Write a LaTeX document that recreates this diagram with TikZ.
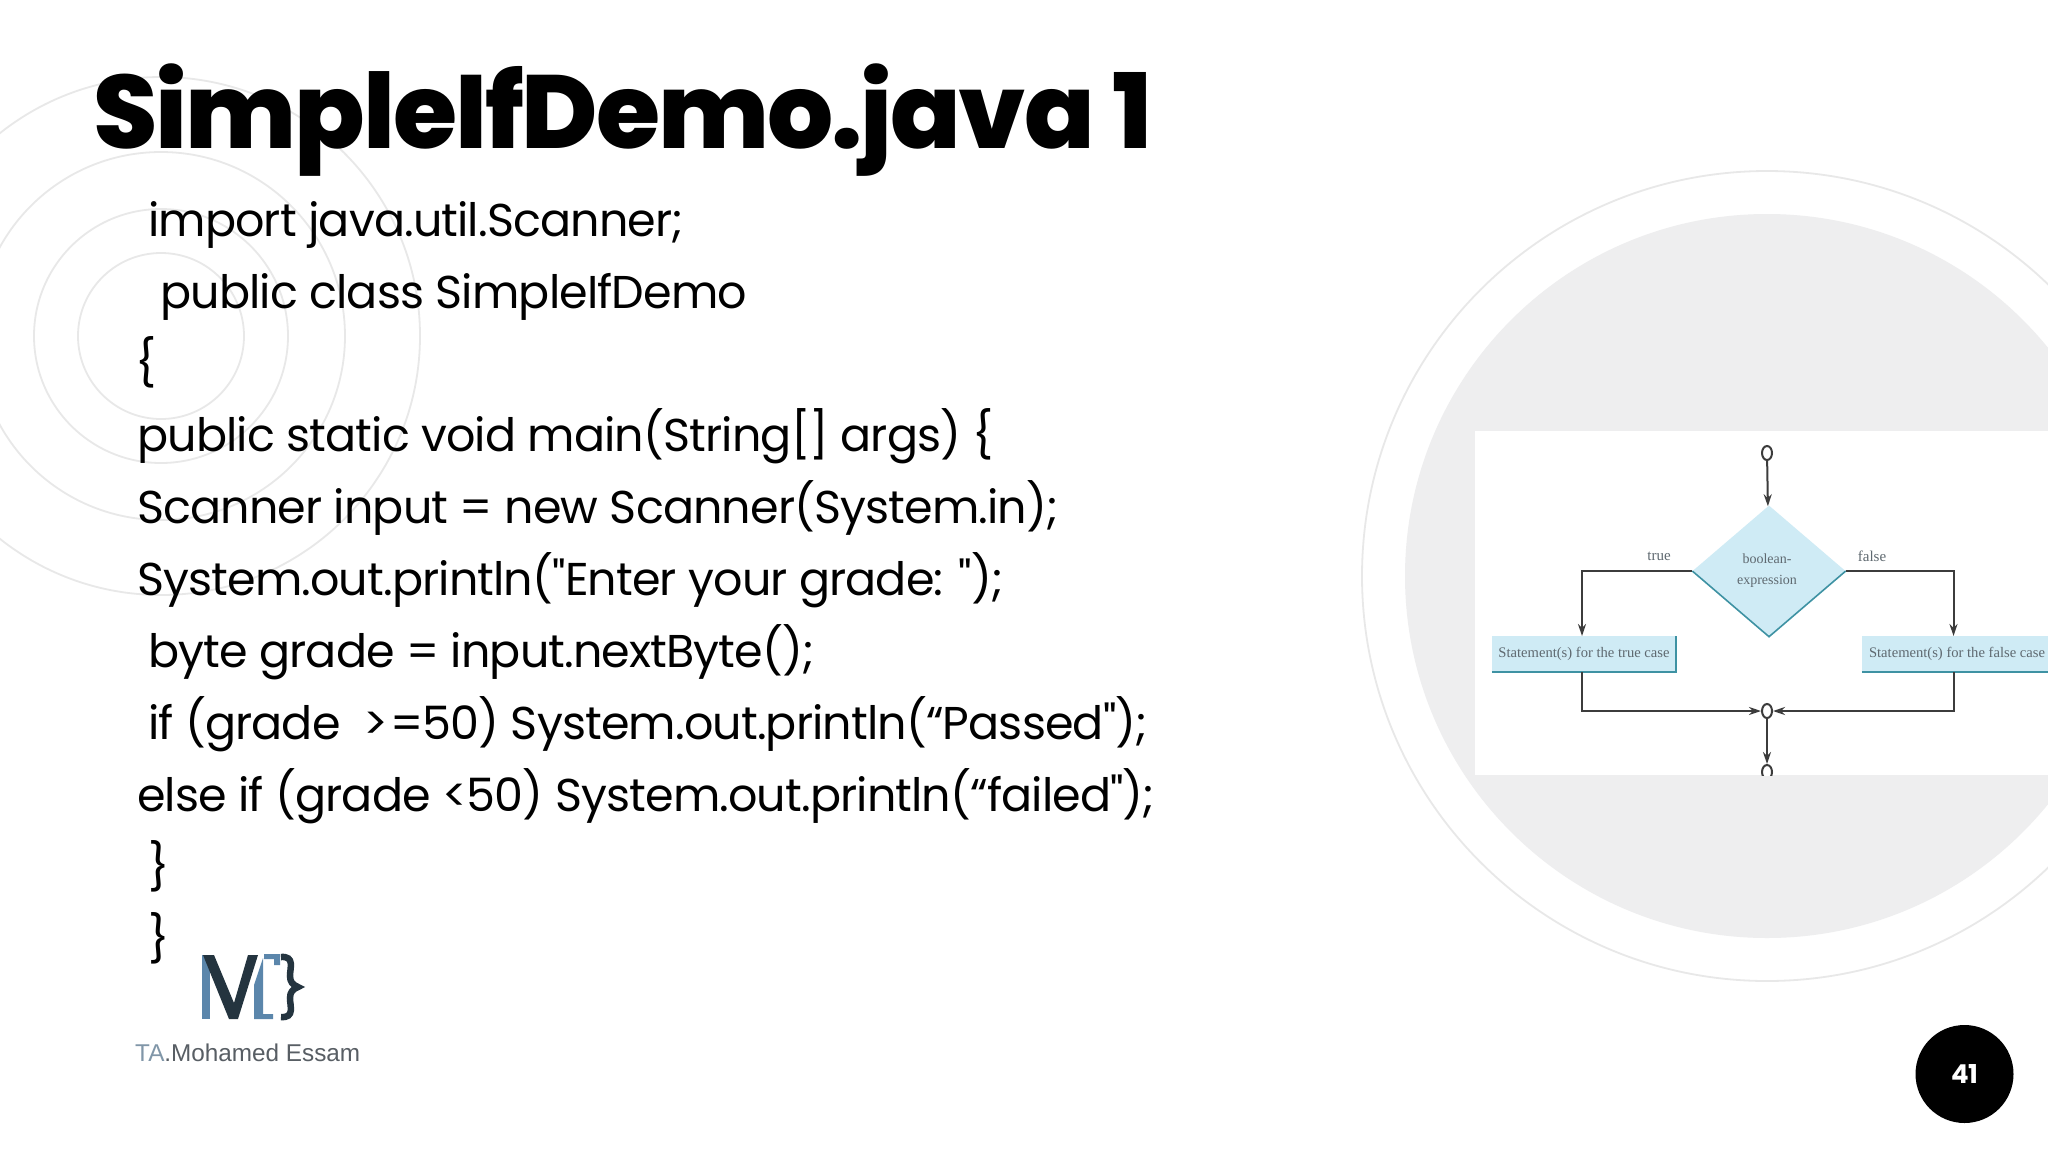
\documentclass[tikz,border=0pt]{standalone}
\usepackage{fontspec}
\usepackage{xcolor}
\usetikzlibrary{arrows.meta}
\usetikzlibrary{positioning}
\usetikzlibrary{shapes.geometric}
\setmainfont{Poppins}[LetterSpace=-1.9, Ligatures=TeXOff]
\newfontfamily\titlefont{Poppins ExtraBold}[LetterSpace=-2.0]
\newfontfamily\chartfont{Liberation Serif}
\newfontfamily\logofont{Liberation Sans}
\definecolor{ring gray}{RGB}{232,232,232}
\definecolor{disc gray}{RGB}{238,238,239}
\definecolor{chart blue}{RGB}{207,235,245}
\definecolor{chart teal}{RGB}{62,146,163}
\definecolor{chart line}{RGB}{60,60,60}
\definecolor{chart text}{RGB}{95,105,112}
\definecolor{logo blue}{RGB}{91,134,171}
\definecolor{logo dark}{RGB}{36,52,63}
\definecolor{logo gray}{RGB}{88,94,100}
\definecolor{logo light}{RGB}{128,150,168}

\begin{document}
\begin{tikzpicture}[
					x=1pt, y=-1pt,
					ring/.style={draw=ring gray, line width=1.8pt},
					code line/.style={anchor=base west, inner sep=0pt, font=\fontsize{46}{46}\selectfont},
					flow line/.style={draw=chart line, line width=2pt},
					flow arrow/.style={flow line, -{Stealth[length=12pt, width=8pt]}},
					flow stop/.style={draw=chart line, line width=2pt, ellipse, fill=white, inner sep=0pt, minimum width=10pt, minimum height=14pt},
					flow box/.style={fill=chart blue, inner sep=0pt, minimum height=36pt, text=chart text, font=\chartfont\fontsize{14.6}{14.6}\selectfont},
					flow label/.style={text=chart text, inner sep=0pt, font=\chartfont\fontsize{15}{15}\selectfont},
					box edge/.style={draw=chart teal, line width=1.6pt},
				]
					\useasboundingbox (0,0) rectangle (2048,1152);
					\clip (0,0) rectangle (2048,1152);
					\fill[white] (0,0) rectangle (2048,1152);

					\foreach \r in {83,127,184,259}
						\draw[ring] (161,336) circle[radius=\r];
					\draw[ring] (1767,576) circle[radius=405];
					\fill[disc gray] (1767,576) circle[radius=362];
					\fill[white] (1475,431) rectangle (2048,775);

					\node[anchor=base west, inner sep=0pt, font=\titlefont\fontsize{104}{104}\selectfont] (title) at (93,148) {SimpleIfDemo.java 1};

					\node[code line] (line1) at (148,236) {import java.util.Scanner;};
					\node[code line] (line2) at (160,308) {public class SimpleIfDemo};
					\node[code line] (line3) at (135,379) {\{};
					\node[code line] (line4) at (137,451) {public static void main(String[] args) \{};
					\node[code line] (line5) at (137,523) {Scanner input = new Scanner(System.in);};
					\node[code line] (line6) at (137,595) {System.out.println("Enter your grade: ");};
					\node[code line] (line7) at (148,667) {byte grade = input.nextByte();};
					\node[code line] (line8) at (148,739) {if (grade\ \ >\kern2pt=50) System.out.println(“Passed");};
					\node[code line] (line9) at (137,811) {else if (grade <50) System.out.println(“failed");};
					\node[code line] (line10) at (148,883) {\}};
					\node[code line] (line11) at (148,955) {\}};

					\node[flow stop] (start) at (1767,453) {};
					\node[diamond, fill=chart blue, inner sep=0pt, minimum width=153pt, minimum height=131pt, aspect=1.168] (decision) at (1769,571) {};
					\node[flow label, align=center, font=\chartfont\fontsize{14}{21}\selectfont] (condition) at (1767,571) {boolean-\\expression};
					\node[flow box, minimum width=184pt] (truebox) at (1584,654) {Statement(s) for the true case};
					\node[flow box, minimum width=190pt] (falsebox) at (1957,654) {Statement(s) for the false case};
					\node[flow stop] (merge) at (1767,711) {};
					\node[flow label] (truelabel) at (1659,556) {true};
					\node[flow label] (falselabel) at (1872,556) {false};
					\coordinate (truetop) at (1582,636);
					\coordinate (truebottom) at (1582,672);
					\coordinate (falsetop) at (1953.5,636);
					\coordinate (falsebottom) at (1953.5,672);

					\draw[box edge] (decision.west) -- (decision.south) -- (decision.east);
					\draw[box edge] (truebox.south west) -- (truebox.south east) -- (truebox.north east);
					\draw[box edge] (falsebox.south west) -- (falsebox.south east) -- (falsebox.north east);

					\draw[flow arrow] (start) -- (decision);
					\draw[flow arrow] (decision.west) -| (truetop);
					\draw[flow arrow] (decision.east) -| (falsetop);
					\draw[flow arrow] (truebottom) |- (merge);
					\draw[flow arrow] (falsebottom) |- (merge);

					\begin{scope}
						\clip (1475,431) rectangle (2048,775);
						\node[flow stop] (finish) at (1767,772) {};
					\end{scope}
					\draw[flow arrow] (merge) -- (finish);

					\fill[logo blue] (202,955) -- (210,955) -- (210,1019) -- (202,1019) -- cycle;
					\fill[logo dark] (203,955) -- (214,955) -- (234,1003) -- (248,955) -- (258,955) -- (238,1019) -- (229,1019) -- cycle;
					\fill[logo blue] (254,1019) -- (254,985) -- (263,958) -- (263,1014) -- (273,1014) -- (273,1019) -- cycle;
					\fill[logo blue] (264,954) -- (280,954) -- (280,965) -- (274,965) -- (274,959) -- (264,959) -- cycle;
					\draw[logo dark, line width=6.5pt] (281,957) .. controls (295,956) and (290,968) .. (290,976) .. controls (290,982) and (293,985) .. (298,987) .. controls (293,989) and (290,992) .. (290,998) .. controls (290,1006) and (295,1018) .. (281,1017);
					\node[anchor=base west, inner sep=0pt, text=logo gray, font=\logofont\fontsize{24.3}{24.3}\selectfont] (logotext) at (135,1061) {\textcolor{logo light}{TA}.Mohamed Essam};

					\node[circle, fill=black, minimum size=98pt, inner sep=0pt, text=white, font=\bfseries\fontsize{26}{26}\selectfont] (pagenum) at (1964.5,1074) {41};
				\end{tikzpicture}
\end{document}
